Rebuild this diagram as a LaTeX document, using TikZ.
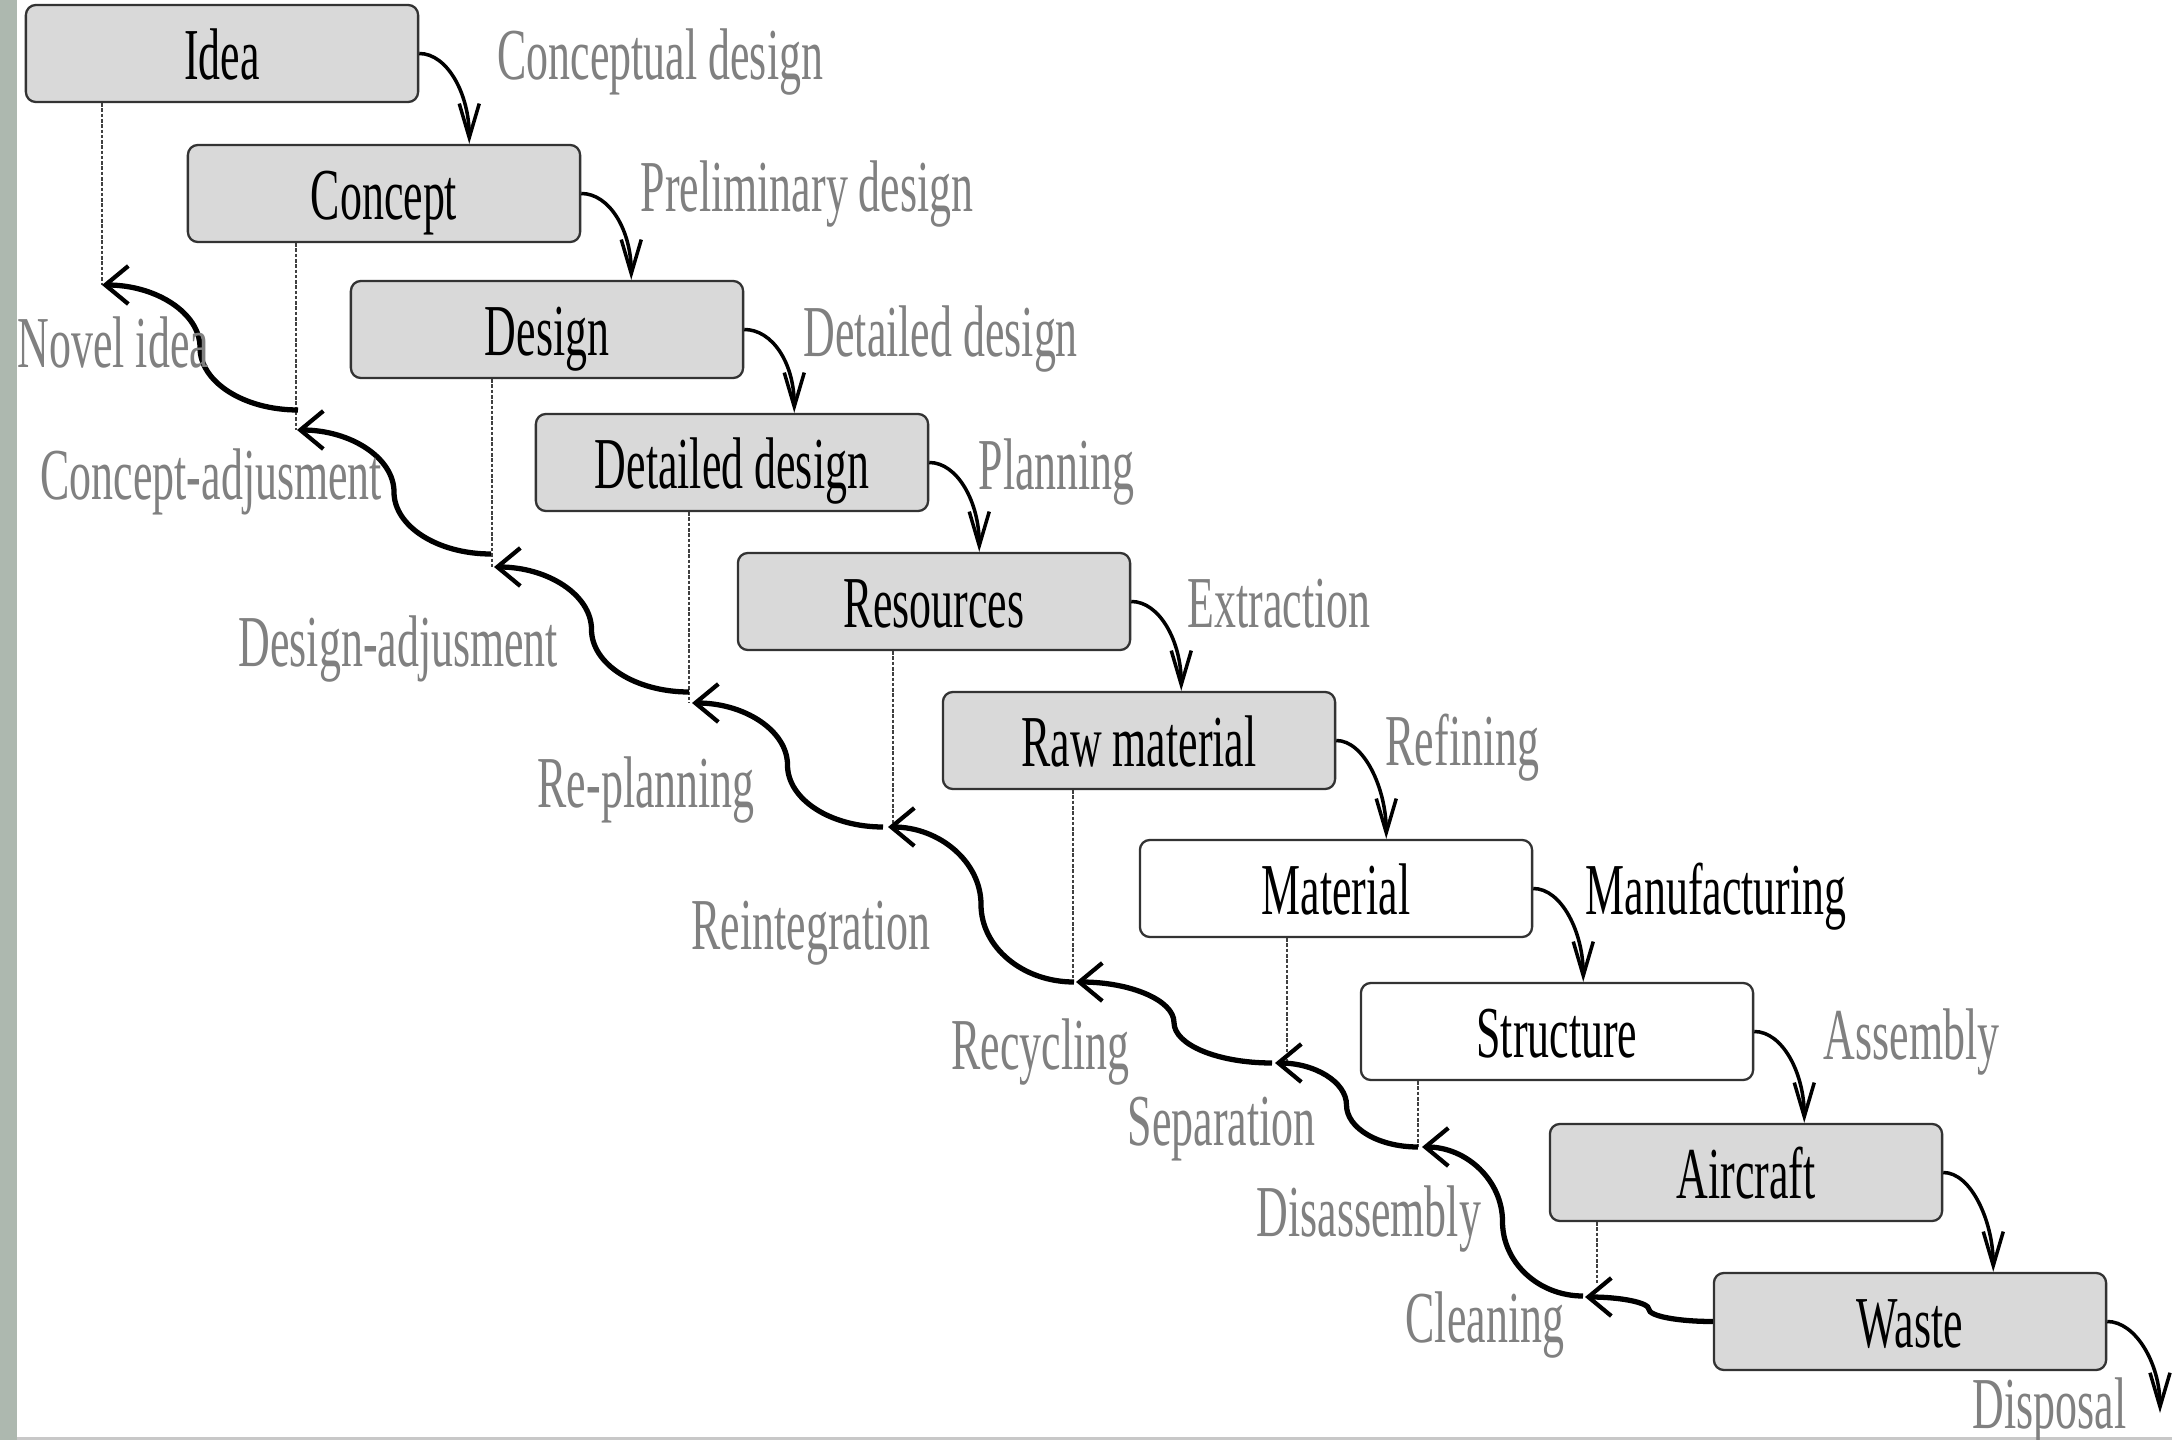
\documentclass[tikz,border=0pt]{standalone}
\usepackage{fontspec}
\setmainfont{Liberation Serif}[FakeStretch=0.6]
\usetikzlibrary{arrows.meta,calc}

\definecolor{boxgray}{RGB}{217,217,217}
\definecolor{labelgray}{RGB}{128,128,128}
\definecolor{edgegray}{RGB}{51,51,51}
\definecolor{stripgray}{RGB}{173,184,175}
\definecolor{rulegray}{RGB}{200,200,200}

\newcommand\diagfont{\fontsize{20.8}{25}\selectfont}

% return path: two quarter-ellipses meeting at the midpoint, arrow at the tip
\newcommand\backflow[2]{%
  \draw[back] let \p1=(#1), \p2=(#2), \p3=($(\p1)!0.5!(\p2)$) in
    (\p1) .. controls ({\x1-0.552*(\x1-\x3)},\y1) and (\x3,{\y3-0.552*(\y3-\y1)}) .. (\p3)
          .. controls (\x3,{\y3+0.552*(\y2-\y3)}) and ({\x2+0.552*(\x3-\x2)},\y2) .. (\p2);}

\tikzset{
  stage/.style={draw=edgegray, line width=0.65pt, rounded corners=0.1cm, fill=boxgray,
    minimum width=3.92cm, minimum height=0.97cm, inner sep=0pt,
    text height=0.62cm, text depth=0.10cm, font=\diagfont},
  stagewhite/.style={stage, fill=white},
  lbl/.style={anchor=base west, inner sep=0pt, text=labelgray, font=\diagfont},
  lbldark/.style={lbl, text=black},
  fwd/.style={line width=1.0pt, -{Straight Barb[length=0.34cm,width=0.2cm,line width=1.0pt]}},
  back/.style={line width=1.5pt, -{Straight Barb[length=0.23cm,width=0.38cm,line width=1.2pt]}},
  drop/.style={line width=0.4pt, black!75, dash pattern=on 1pt off 0.5pt},
}

\begin{document}
\begin{tikzpicture}[x=0.01cm,y=-0.01cm]
\useasboundingbox (0,0) rectangle (2172,1440);
\fill[white] (0,0) rectangle (2172,1440);
\fill[stripgray] (0,0) rectangle (17,1440);
\fill[rulegray] (17,1437) rectangle (2172,1440);

% life-cycle stages
\node[stage]      (idea)      at (222,53.5)   {Idea};
\node[stage]      (concept)   at (384,193.5)  {Concept};
\node[stage]      (design)    at (547,329.5)  {Design};
\node[stage]      (detailed)  at (732,462.5)  {Detailed design};
\node[stage]      (resources) at (934,601.5)  {Resources};
\node[stage]      (raw)       at (1139,740.5) {Raw material};
\node[stagewhite] (material)  at (1336,888.5) {Material};
\node[stagewhite] (structure) at (1557,1031.5){Structure};
\node[stage]      (aircraft)  at (1746,1172.5){Aircraft};
\node[stage]      (waste)     at (1910,1321.5){Waste};

% forward processes
\draw[fwd] (idea.east) .. controls +(28,0) and +(0,-50) .. ($(concept.north -| idea.east)+(50,0)$);
\draw[fwd] (concept.east) .. controls +(28,0) and +(0,-50) .. ($(design.north -| concept.east)+(50,0)$);
\draw[fwd] (design.east) .. controls +(28,0) and +(0,-50) .. ($(detailed.north -| design.east)+(50,0)$);
\draw[fwd] (detailed.east) .. controls +(28,0) and +(0,-50) .. ($(resources.north -| detailed.east)+(50,0)$);
\draw[fwd] (resources.east) .. controls +(28,0) and +(0,-50) .. ($(raw.north -| resources.east)+(50,0)$);
\draw[fwd] (raw.east) .. controls +(28,0) and +(0,-50) .. ($(material.north -| raw.east)+(50,0)$);
\draw[fwd] (material.east) .. controls +(28,0) and +(0,-50) .. ($(structure.north -| material.east)+(50,0)$);
\draw[fwd] (structure.east) .. controls +(28,0) and +(0,-50) .. ($(aircraft.north -| structure.east)+(50,0)$);
\draw[fwd] (aircraft.east) .. controls +(28,0) and +(0,-50) .. ($(waste.north -| aircraft.east)+(50,0)$);
\coordinate (dispend) at (2160,1413);
\draw[fwd] (waste.east) .. controls +(28,0) and +(0,-50) .. (dispend);

\node[lbl]     at (497,80)    {Conceptual design};
\node[lbl]     at (640,212)   {Preliminary design};
\node[lbl]     at (803,357)   {Detailed design};
\node[lbl]     at (978,490)   {Planning};
\node[lbl]     at (1187,628)  {Extraction};
\node[lbl]     at (1385,766)  {Refining};
\node[lbldark] at (1585,915)  {Manufacturing};
\node[lbl]     at (1823,1059) {Assembly};
\node[lbl]     at (1972,1428) {Disposal};

% joints of the return path: S = start of a return step, J = arrow tip
\coordinate (J0) at (102,285);
\coordinate (S1) at (298,410);  \coordinate (J1) at (297,430);
\coordinate (S2) at (491,554);  \coordinate (J2) at (494,567);
\coordinate (S3) at (689,692);  \coordinate (J3) at (692,703);
\coordinate (S4) at (883,827);  \coordinate (J4) at (888,827);
\coordinate (S5) at (1074,982); \coordinate (J5) at (1076,982);
\coordinate (S6) at (1272,1063);\coordinate (J6) at (1275,1063);
\coordinate (S7) at (1418,1147);\coordinate (J7) at (1422,1147);
\coordinate (S8) at (1583,1296);\coordinate (J8) at (1585,1297);

% feet of the drop lines
\coordinate (V0) at (102,285);
\coordinate (V1) at (296,430);
\coordinate (V2) at (492,567);
\coordinate (V3) at (689,703);
\coordinate (V4) at (893,827);
\coordinate (V5) at (1073,982);
\coordinate (V6) at (1287,1063);
\coordinate (V7) at (1418,1147);
\coordinate (V8) at (1597,1283);

\draw[drop] (idea.south -| V0) -- (V0);
\draw[drop] (concept.south -| V1) -- (V1);
\draw[drop] (design.south -| V2) -- (V2);
\draw[drop] (detailed.south -| V3) -- (V3);
\draw[drop] (resources.south -| V4) -- (V4);
\draw[drop] (raw.south -| V5) -- (V5);
\draw[drop] (material.south -| V6) -- (V6);
\draw[drop] (structure.south -| V7) -- (V7);
\draw[drop] (aircraft.south -| V8) -- (V8);

% return processes
\backflow{S1}{J0}
\backflow{S2}{J1}
\backflow{S3}{J2}
\backflow{S4}{J3}
\backflow{S5}{J4}
\backflow{S6}{J5}
\backflow{S7}{J6}
\backflow{S8}{J7}
\backflow{waste.west}{J8}

\node[lbl] at (17,368)   {Novel idea};
\node[lbl] at (40,500)   {Concept-adjusment};
\node[lbl] at (238,667)  {Design-adjusment};
\node[lbl] at (537,808)  {Re-planning};
\node[lbl] at (691,950)  {Reintegration};
\node[lbl] at (951,1069) {Recycling};
\node[lbl] at (1127,1145){Separation};
\node[lbl] at (1256,1236){Disassembly};
\node[lbl] at (1405,1342){Cleaning};
\end{tikzpicture}
\end{document}
